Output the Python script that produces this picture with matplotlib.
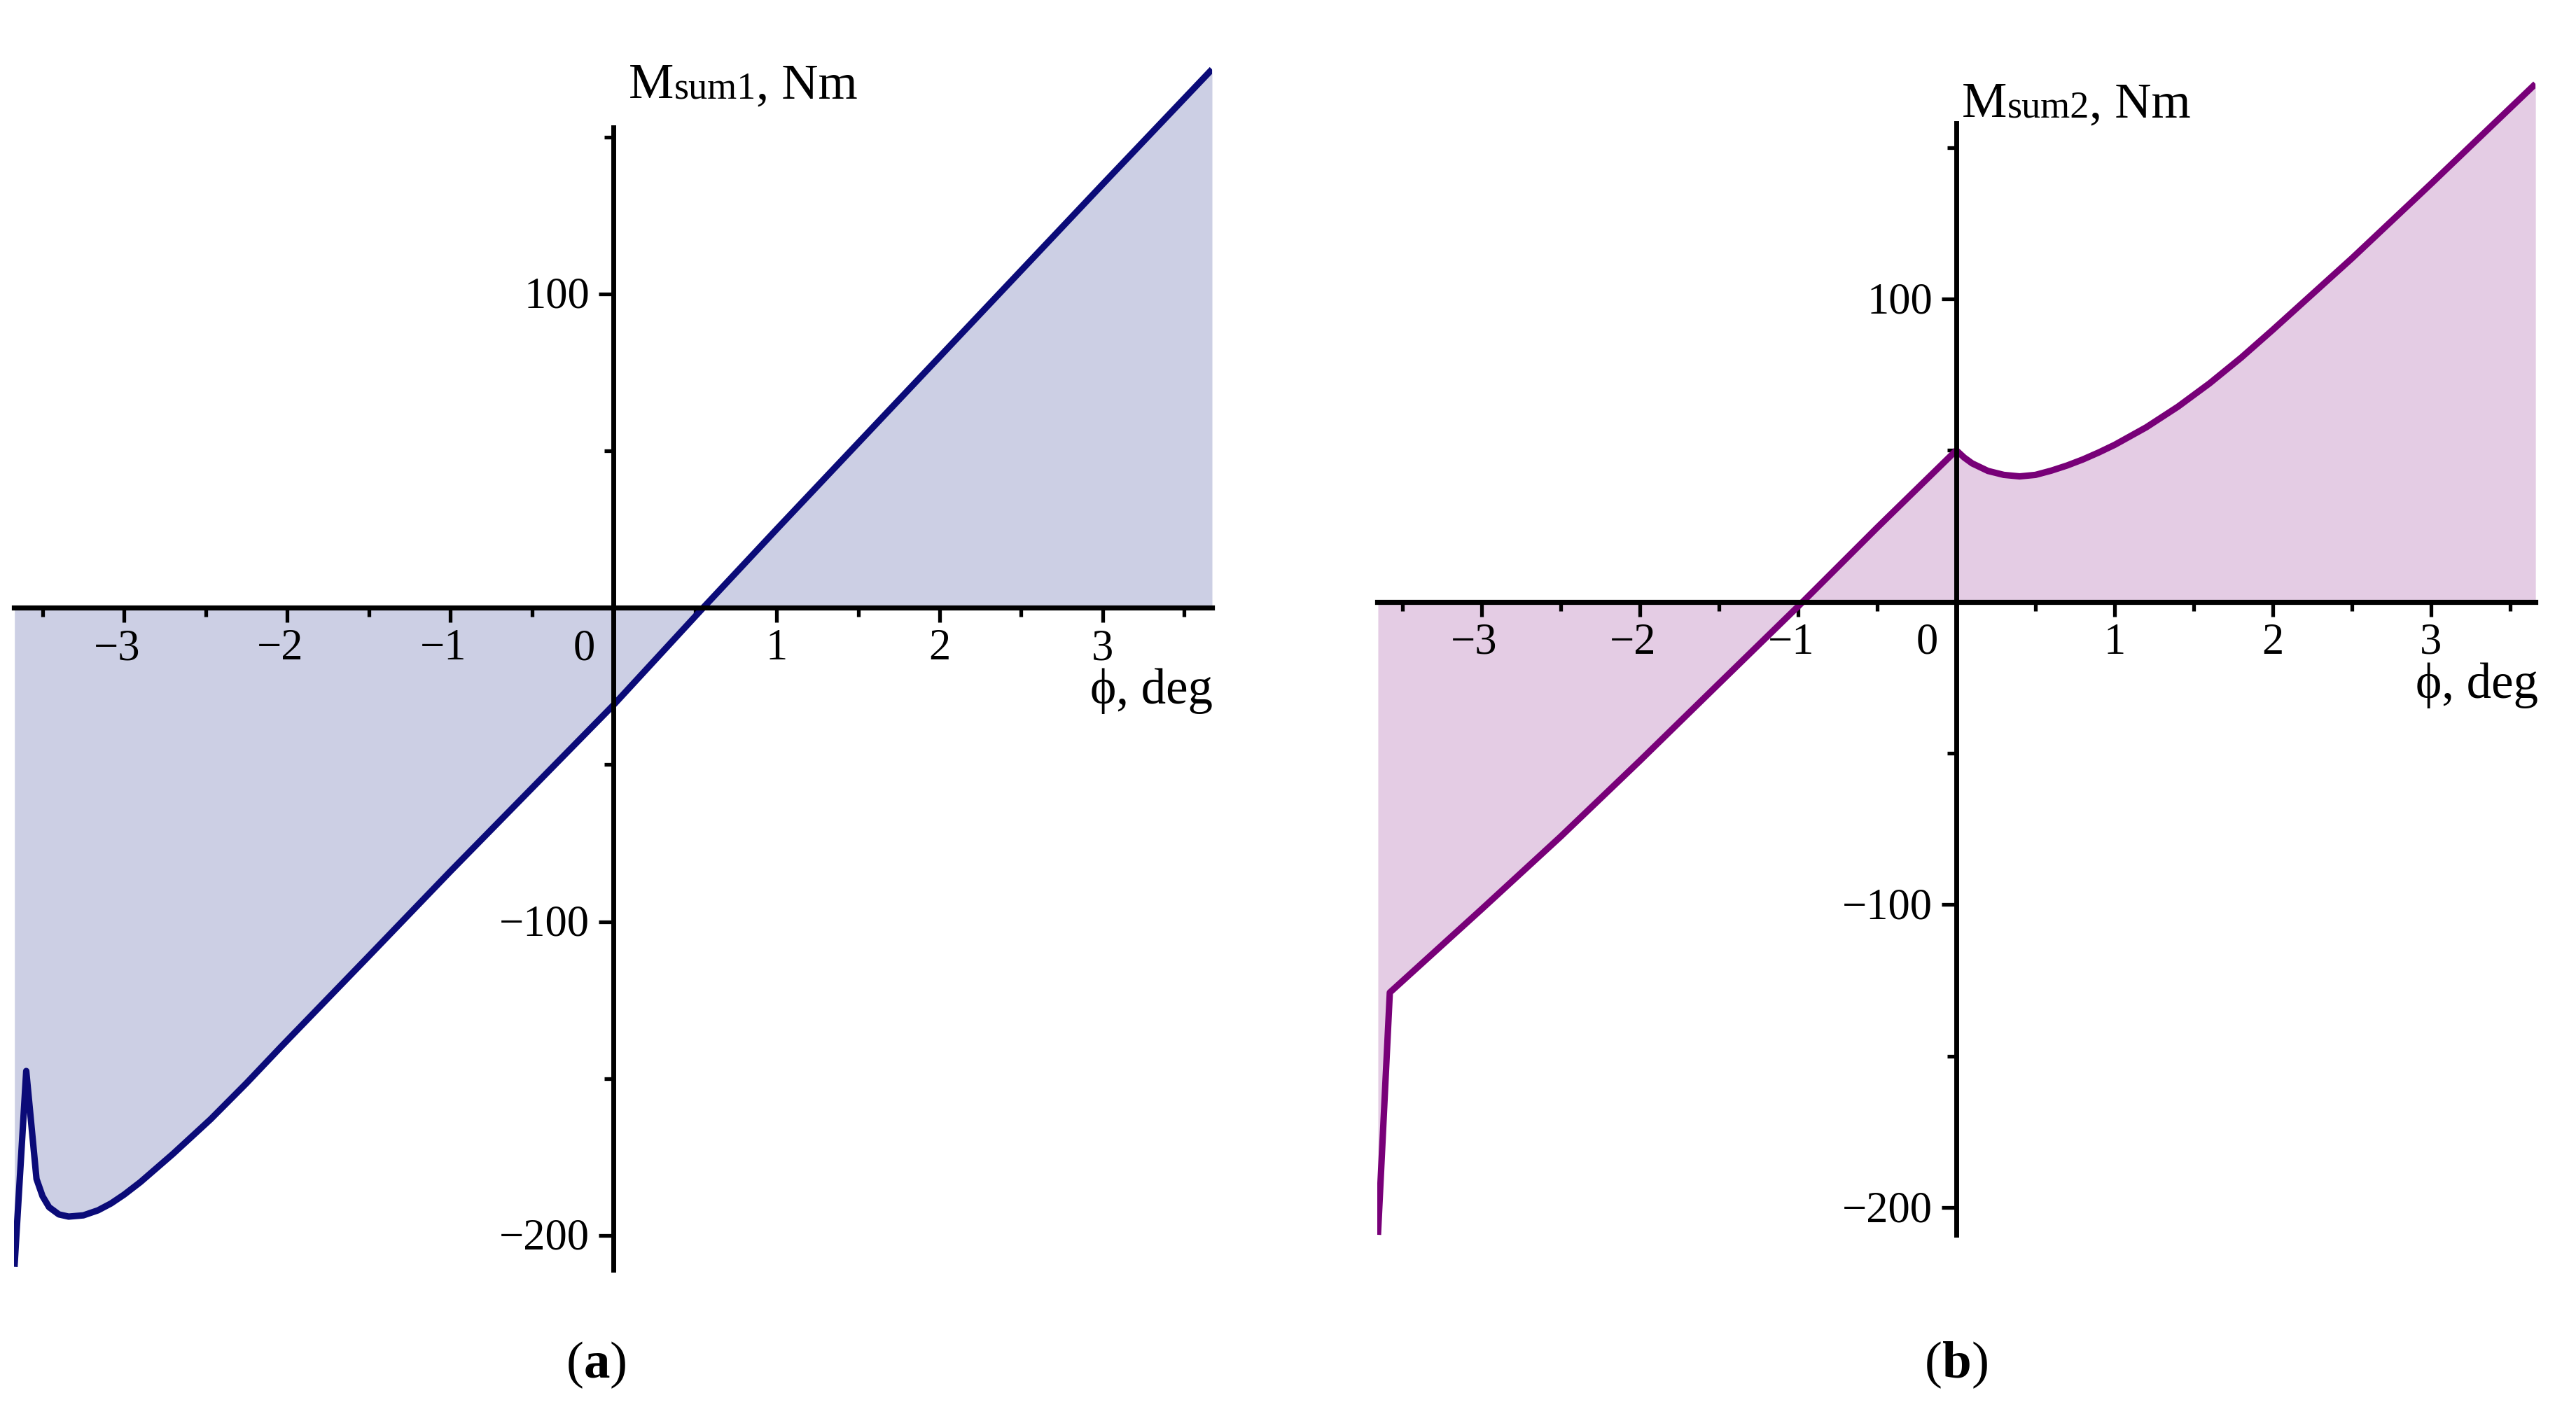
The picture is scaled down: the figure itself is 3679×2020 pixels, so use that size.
import matplotlib
matplotlib.use('Agg')
import matplotlib.pyplot as plt

W, H = 3680, 2020
plt.rcParams['font.family'] = ['Liberation Serif', 'DejaVu Serif']

# ---------------- data ----------------
phi_a = [-3.672, -3.60, -3.537, -3.50, -3.46, -3.40, -3.34, -3.25, -3.16, -3.08,
         -3.0, -2.9, -2.7, -2.47, -2.25, -2.04, -1.5, -1.0, -0.5, 0.0, 0.55, 1.0,
         2.0, 3.0, 3.67]
m_a = [-210, -147.6, -182, -187.5, -191, -193.3, -194, -193.6, -192, -189.8,
       -187, -183, -174, -163, -151.5, -140, -111, -84, -57.5, -31, 0, 25,
       80, 135, 171.6]

phi_b = [-3.655, -3.58, -3.0, -2.5, -2.0, -1.5, -0.97, -0.5, 0.0, 0.05, 0.1, 0.2,
         0.3, 0.4, 0.5, 0.6, 0.7, 0.8, 0.9, 1.0, 1.2, 1.4, 1.6, 1.8, 2.0, 2.5,
         3.0, 3.66]
m_b = [-209, -129, -101.5, -77.5, -52.5, -27, 0, 24.5, 50, 47.6, 45.7, 43.2,
       41.9, 41.4, 41.9, 43.3, 45.0, 47.0, 49.3, 51.8, 57.6, 64.4, 72.1, 80.6, 89.8, 113.4,
       138, 171]

x_major = [-3, -2, -1, 0, 1, 2, 3]
x_major_labels = ['\u22123', '\u22122', '\u22121', '0', '1', '2', '3']
x_minor = [-3.5, -2.5, -1.5, -0.5, 0.5, 1.5, 2.5, 3.5]
y_major = [-200, -100, 100]
y_major_labels = ['\u2212200', '\u2212100', '100']
y_minor = [-150, -50, 50, 150]

y_name_a = ('M', 'sum1', ', Nm')
y_name_b = ('M', 'sum2', ', Nm')
x_name = '\u03d5, deg'
captions = ('a', 'b')

fig = plt.figure(figsize=(W / 100, H / 100), dpi=100)
renderer = fig.canvas.get_renderer()

PX = 0.72  # points per pixel at dpi 100


def place_run(pieces, x0, y_img, center=False):
    texts = []
    x = x0
    for s, size, weight in pieces:
        t = fig.text(x / W, 1 - y_img / H, s, fontsize=size, fontweight=weight,
                     ha='left', va='baseline',
                     family=['Liberation Serif', 'DejaVu Serif'])
        bb = t.get_window_extent(renderer)
        x = bb.x1
        texts.append(t)
    if center:
        shift = (x - x0) / 2
        for t in texts:
            px, py = t.get_position()
            t.set_position((px - shift / W, py))
    return texts


def panel(px_l, px_r, px_t, px_b, xlim, ylim, ybounds, xs, ys, lc, fc,
          yname, ylab_xy, xlab_xy, cap, cap_xy):
    ax = fig.add_axes([px_l / W, 1 - px_b / H, (px_r - px_l) / W, (px_b - px_t) / H])
    ax.set_xlim(*xlim)
    ax.set_ylim(*ylim)
    ax.patch.set_alpha(0)
    ax.fill_between(xs, ys, 0, color=fc, linewidth=0, zorder=1)
    ax.plot(xs, ys, color=lc, linewidth=6.6, solid_joinstyle='round',
            solid_capstyle='butt', zorder=2)
    for s in ('top', 'right'):
        ax.spines[s].set_visible(False)
    ax.spines['left'].set_position(('data', 0))
    ax.spines['bottom'].set_position(('data', 0))
    ax.spines['left'].set_bounds(*ybounds)
    ax.spines['left'].set_linewidth(5.0)
    ax.spines['bottom'].set_linewidth(5.2)
    ax.spines['left'].set_zorder(3)
    ax.spines['bottom'].set_zorder(3)
    ax.set_xticks(x_major)
    ax.set_xticks(x_minor, minor=True)
    ax.set_yticks(y_major)
    ax.set_yticks(y_minor, minor=True)
    ax.tick_params(which='major', direction='out', length=15, width=3.8,
                   labelbottom=False, labelleft=False)
    ax.tick_params(which='minor', direction='out', length=9.5, width=3.8)
    for v, lab in zip(x_major, x_major_labels):
        if v == 0:
            ax.annotate(lab, (v, 0), xytext=(-26 * PX, -74 * PX), textcoords='offset points',
                        ha='right', va='baseline', fontsize=45)
        elif v < 0:
            ax.annotate(lab, (v, 0), xytext=(23 * PX, -74 * PX), textcoords='offset points',
                        ha='right', va='baseline', fontsize=45)
        else:
            ax.annotate(lab, (v, 0), xytext=(0, -74 * PX), textcoords='offset points',
                        ha='center', va='baseline', fontsize=45)
    for v, lab in zip(y_major, y_major_labels):
        ax.annotate(lab, (0, v), xytext=(-34 * PX, -20 * PX), textcoords='offset points',
                    ha='right', va='baseline', fontsize=45)
    place_run([(yname[0], 52, 'normal'), (yname[1], 39, 'normal'), (yname[2], 52, 'normal')],
              ylab_xy[0], ylab_xy[1])
    place_run([(x_name, 51, 'normal')], xlab_xy[0], xlab_xy[1])
    place_run([('(', 54, 'normal'), (cap, 54, 'bold'), (')', 54, 'normal')],
              cap_xy[0], cap_xy[1], center=True)
    return ax


# left panel: y0 at 868.3 px, 4.483 px/unit ; x0 at 876 px, 233 px/unit
panel(20, 1731, 868.3 - 175 * 4.483, 868.3 + 215 * 4.483,
      (-3.675, 3.67), (-215, 175), (-211, 153), phi_a, m_a,
      '#0b0b78', '#cccfe4', y_name_a, (898, 140), (1557, 1005), captions[0], (852, 1968))

# right panel: y0 at 859.7 px, 4.327 px/unit ; x0 at 2794 px, 226 px/unit
panel(2794 - 3.66 * 226, 2794 + 3.66 * 226, 859.7 - 175 * 4.327, 859.7 + 215 * 4.327,
      (-3.66, 3.66), (-215, 175), (-209, 158), phi_b, m_b,
      '#780078', '#e4cce4', y_name_b, (2802, 167), (3450, 997), captions[1], (2795, 1968))

fig.savefig('out.png', dpi=100, facecolor='white')
